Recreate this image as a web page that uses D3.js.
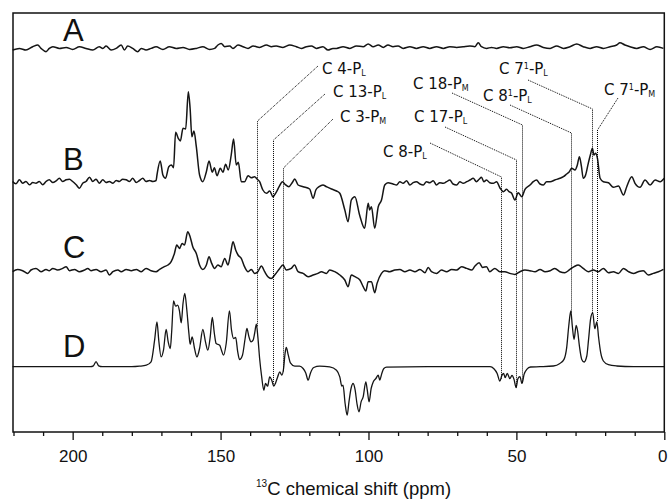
<!DOCTYPE html>
<html>
<head>
<meta charset="utf-8">
<script src="https://cdn.jsdelivr.net/npm/d3@7"></script>
<style>
body{margin:0;background:#fff;}
text{fill:#111;}
</style>
</head>
<body>
<div id="chart"></div>
<script>
// spectra as [ppm, intensity] pairs
const specA = [[220.3,-2.3],[218.0,-0.7],[215.8,-2.3],[213.5,1],[211.8,2.7],[210.7,-0.7],[209.0,-4],[207.9,-0.7],[206.7,1],[204.5,-0.7],[202.2,0.3],[200.0,-1.7],[197.7,1],[195.5,-0.7],[193.2,-2.3],[191.0,1],[189.8,-0.7],[188.7,1.7],[187.0,-2.3],[185.3,-0.7],[183.6,2.7],[182.5,-2.3],[181.4,1.7],[179.7,-0.7],[178.0,-4],[176.8,-0.7],[175.2,-2.3],[173.5,-0.7],[171.8,1],[169.5,-1.7],[167.3,1],[165.0,-0.7],[162.7,0.3],[160.5,-1.7],[158.2,-0.7],[156.0,1],[153.7,-1.7],[152.0,-0.7],[150.9,2.7],[149.8,4.3],[148.6,1],[146.9,1.7],[145.8,-0.7],[144.1,2.7],[142.4,1],[140.7,-0.7],[139.0,1.7],[136.8,0.3],[134.5,2.7],[132.8,1],[131.2,1.7],[128.9,0.3],[126.6,2.7],[124.4,1],[122.7,-0.7],[121.0,1],[119.3,1.7],[117.6,-0.7],[115.4,1],[113.7,-2.3],[112.0,-0.7],[110.8,-0.7],[108.6,1],[106.3,-0.7],[104.1,1.7],[101.8,1],[100.1,3.7],[98.4,1],[96.7,2.7],[95.0,0.3],[93.4,2.7],[91.7,1],[90.0,1.7],[88.3,-0.7],[86.0,1],[83.8,-0.7],[81.5,1],[79.3,-0.7],[77.0,1],[74.7,-0.7],[72.5,1],[70.2,0.3],[68.0,1],[65.7,1.7],[64.0,1],[62.9,5],[61.8,1],[60.1,-0.7],[58.4,0.3],[56.7,-0.7],[54.4,1],[52.2,0],[49.9,1],[47.7,-0.7],[45.4,1],[43.2,2.7],[40.9,0.3],[38.6,-0.7],[36.4,1.7],[34.1,-0.7],[31.9,1],[29.6,3.7],[27.4,1],[25.1,-0.7],[22.9,1],[20.6,-0.7],[18.3,1],[16.1,2.7],[15.0,5],[13.3,2.7],[11.6,1],[9.3,-0.7],[7.1,1],[4.8,-1.7],[2.5,1],[0.3,-0.7]];

const specB = [[220.3,1],[219.2,-1.3],[218.0,2.7],[216.9,-0.7],[215.8,1],[214.6,-2.3],[213.5,0],[212.4,-0.7],[211.3,1],[210.1,-2.3],[209.0,1],[207.9,2.7],[206.7,0],[205.6,1.7],[204.5,4.3],[203.4,1],[202.2,2.7],[201.1,3.3],[200.0,1],[198.8,-2.3],[197.7,-5.7],[196.6,-0.7],[195.5,1],[194.3,5.3],[193.2,1],[192.1,3.3],[191.0,-0.7],[189.8,2.7],[188.7,0],[187.6,1],[186.4,-0.7],[185.3,2],[184.2,1],[183.1,3.3],[181.9,2.7],[180.8,1],[179.7,4.3],[178.5,0],[177.4,2],[176.3,4.3],[175.2,1],[174.0,2],[172.9,1],[171.8,2],
[171.5,7.5],[170.4,21.5],[169.5,7.5],[168.6,4.2],[167.5,15.8],[166.6,17.5],[165.9,14.8],[165.2,50.2],[164.3,44.2],[163.6,41.5],[162.7,54.2],[161.8,53.5],[160.9,90.8],[160.3,74.2],[159.7,45.8],[159.0,51.5],[158.2,35.8],[157.1,7.5],[156.0,0.8],[154.8,10.8],[153.9,21.5],[152.8,10.2],[152.1,14.8],[151.2,6.8],[150.1,14.2],[149.2,10.2],[148.3,18.2],[147.4,12.5],[146.4,27.5],[145.6,43.5],[144.7,17.5],[144.0,20.2],[143.0,0.8],[141.9,0.8],[140.7,6.8],[139.6,4.8],[138.5,5.8],[137.7,3.5],[136.8,0.8],[135.7,-7.5],[134.5,-10.8],[133.4,-8.5],[132.3,-14.2],[131.2,-9.8],[130.2,-4.2],[129.1,0.8],[128.2,-1.8],[126.9,-4.2],[125.7,0.2],[124.9,3.5],[123.8,-2.5],[122.1,-4.2],[119.9,-6.5],[118.7,-15.8],[117.8,-7.5],[116.7,-4.2],[115.4,-2.5],[114.2,-4.2],[112.5,-6.5],[110.8,-8.5],[109.7,-10.8],
[108.0,-27.5],[106.9,-39.2],[105.8,-17.5],[104.6,-14.2],[103.0,-32.5],[101.3,-45.8],[100.1,-20.8],[99.6,-27.5],[99.0,-24.2],[97.9,-45.8],[96.7,-24.2],[95.6,-17.5],[94.5,-2.5],[93.4,-0.2],[91.7,-1.5],[90.5,-2.5],[89.4,0.8],[88.3,-0.8],[87.1,1.8],[86.0,-2.5],[84.9,-0.2],[83.8,0.8],[82.6,-1.5],[81.5,-2.5],[80.4,0.8],[79.3,-0.2],[78.1,1.8],[77.0,-2.5],[75.9,-0.2],[74.7,-0.8],[73.6,0.8],[72.5,2.5],[71.4,-1.5],[70.2,-2.5],[69.1,0.8],[68.0,-0.8],[66.8,0.8],[65.7,2.5],[64.6,4.2],[63.5,0.8],[62.6,3.2],[61.8,5.2],[61.0,0.8],[60.1,2.5],[59.0,-0.2],[57.8,-0.8],[56.7,0.8],[55.5,-5.8],[54.4,-9.2],[53.3,-6.8],[52.5,-9.2],[51.6,-10.8],[50.5,-17.5],[49.4,-10.2],[48.2,-14.2],[47.1,-6.8],[45.4,-2.5],[44.3,0.8],[43.2,2.5],[42.0,-1.5],[40.9,-2.5],[39.8,0.8],[38.6,0.8],[37.0,2.5],[35.3,4.2],[34.1,5.8],[33.0,8.5],[32.1,10.8],[31.3,14.2],[30.2,12.5],[29.4,17.5],[28.7,25.8],[28.0,15.8],[27.4,4.2],[26.6,7.5],[25.7,19.2],[25.0,27.5],[24.3,34.2],[23.8,27.5],[23.2,29.2],[22.6,24.2],[21.7,4.2],[20.6,0.8],[18.9,-0.2],[17.2,-4.8],[15.5,-3.5],[13.8,-12.5],[12.7,-4.2],[11.0,5.8],[9.9,-0.8],[8.2,-4.8],[6.5,2.5],[4.8,-2.5],[3.1,2.5],[1.4,0.8],[0.0,4.2]];

const specC = [[220.3,0],[218.6,2.3],[216.9,1],[215.2,-1.7],[214.1,1.7],[212.4,3.3],[210.7,0],[209.0,2.3],[207.9,1],[206.7,3.3],[205.1,1.7],[203.4,3.3],[202.2,5],[201.1,1],[199.4,2.3],[197.7,0],[196.0,1.7],[194.9,3.3],[193.8,1],[192.1,2.3],[190.4,0],[188.7,1.7],[187.6,-3.3],[186.4,0],[184.7,1.7],[183.6,0],[181.9,2.3],[180.2,1],[178.5,2.3],[176.8,0],[175.2,3.3],[173.5,1],[171.8,0],[170.6,2.3],[169.0,5],[167.8,6.7],[166.7,10],[165.6,18.3],[164.8,26.7],[163.9,23.3],[163.0,28.3],[162.2,26.7],[161.1,40],[160.3,35],[159.4,25],[158.2,18.3],[157.1,6.7],[156.0,2.3],[154.8,6.7],[153.9,15],[153.0,8.3],[152.0,3.3],[150.9,6.7],[149.8,5],[148.6,13.3],[147.5,6.7],[146.6,18.3],[145.8,30],[144.9,21.7],[144.1,16.7],[143.0,13.3],[141.9,5],[140.7,0],[139.6,2.3],[138.5,-1.7],[137.4,0],[136.2,5.7],[135.1,0],[134.0,-5],[132.9,-6.7],[131.7,-3.3],[130.0,3.3],[128.9,6.7],[127.8,1.7],[126.1,3.3],[125.0,6.7],[123.8,0],[122.1,-1.7],[120.4,-5],[118.7,-3.3],[117.1,-1.7],[115.9,0],[114.2,-1.7],[113.1,1.7],
[111.4,0],[109.7,-3.3],[108.0,-8.3],[106.9,-15],[105.8,-3.3],[104.6,-5],[102.9,-8.3],[101.8,-15],[100.9,-19.3],[100.1,-10],[99.0,-10],[97.9,-21],[97.1,-11.7],[95.6,-1.7],[94.5,1],[92.8,0],[91.1,1.7],[89.4,2.3],[87.7,0],[86.0,1.7],[84.3,0],[82.6,2.3],[80.9,-1],[79.8,4.3],[78.7,0],[77.0,-1.7],[75.3,1.7],[73.6,0],[71.9,2.3],[70.2,1.7],[68.5,5],[66.8,3.3],[65.1,1.7],[64.0,5.7],[62.6,9],[61.4,4.3],[60.1,5],[59.0,0],[57.3,3.3],[55.6,0],[53.9,0],[52.2,-1.7],[50.5,-2.7],[48.8,0],[47.1,1.7],[45.4,1],[43.7,0],[42.0,2.3],[40.3,0],[38.6,1],[37.0,3.3],[35.3,0],[33.6,-1],[31.9,2.3],[30.5,5],[29.1,6.7],[27.4,3.3],[25.7,0],[24.0,1.7],[22.3,0],[20.6,3.3],[18.9,-1],[17.2,0],[15.5,-1.7],[13.8,3.3],[12.1,0],[10.4,-1.7],[8.8,0],[7.1,1],[5.4,-3.3],[3.7,-1.7],[2.0,0],[0.3,2.3]];

const specD = [[220.3,0],[200.0,0],[194.0,0],[193.0,0.8],[192.1,5],[191.2,0.8],[190.0,0],[180.0,0],[177.4,0.5],[175.1,1.5],[173.5,4.8],[172.3,26.5],[171.5,44.8],[170.9,26.5],[170.1,9.8],[169.3,16.5],[168.4,37.2],[167.7,24.8],[167.0,18.2],[166.5,36.5],[165.9,65.8],[165.2,60.5],[164.5,61.5],[163.9,55.8],[163.3,43.8],[162.7,63.2],[162.1,73.2],[161.4,56.5],[160.7,33.2],[160.3,22.5],[159.6,29.8],[158.8,18.2],[158.0,9.8],[157.1,18.2],[156.0,37.2],[155.1,24.8],[154.3,16.5],[153.5,29.8],[152.8,49.2],[152.1,33.2],[151.5,23.2],[150.3,21.5],[149.7,16.5],[149.0,11.5],[148.1,23.2],[147.0,55.8],[146.3,36.5],[145.6,28.2],[144.9,29.2],[144.2,14.8],[143.6,7.2],[142.6,11.5],[141.7,28.2],[141.1,38.2],[140.4,29.8],[139.7,24.8],[139.0,26.5],[138.5,33.2],[137.9,42.5],[137.4,29.8],[136.8,8.2],[136.1,-10.2],[135.4,-23.5],[134.8,-16.8],[134.1,-19.5],[133.4,-10.2],[132.7,-13.5],[132.0,-19.5],[131.4,-16.2],[130.7,-10.2],[130.0,-5.2],[129.3,-8.5],[128.7,-1.8],[128.2,13.2],[127.8,19.2],[127.1,11.5],[126.4,3.8],[124.9,0.5],[123.3,0.5],[122.1,-1.8],[121.2,-6.2],[120.4,-13.5],[119.6,-6.2],[118.5,-0.8],[116.5,0.5],[113.1,-0.2],[110.8,-3.5],[109.7,-10.2],[109.0,-19.5],
[108.6,-18.5],[107.9,-36.8],[107.2,-48.5],[106.6,-35.2],[105.9,-21.8],[105.2,-16.8],[104.5,-23.5],[103.9,-36.8],[103.2,-45.2],[102.5,-35.2],[101.8,-30.2],[100.9,-15.2],[100.4,-23.5],[99.8,-35.2],[99.1,-21.8],[98.4,-15.2],[97.5,-11.8],[96.7,-8.5],[96.2,-13.5],[95.5,-6.8],[94.8,-1.8],[93.9,-0.5],[80.0,0],
[58.9,0],[57.6,-2],[56.5,-6.7],[55.6,-14.4],[54.9,-8.7],[54.3,-6.7],[53.8,-11],[53.1,-6.7],[52.2,-12],[51.5,-8.7],[50.8,-12.7],[50.1,-21],[49.5,-12],[48.8,-10],[48.1,-16.7],[47.4,-7.7],[46.5,-2.7],[45.2,-0.3],[42.0,0],[37.5,0.7],[35.3,3.3],[33.9,7.3],[33.0,19],[32.3,40.7],[31.6,55.7],[31.1,40.7],[30.5,27.3],[29.8,41.3],[29.3,35.7],[28.7,20.7],[27.9,7.3],[27.1,4.7],[26.2,10.7],[25.6,27.3],[24.9,48],[24.2,54],[23.5,38],[22.8,44.7],[22.2,29],[21.5,14],[20.6,5.7],[18.9,2],[16.1,0.7],[10.4,0],[0.0,0]];

const spectra = [specA, specB, specC, specD];
const traceNames = ["A", "B", "C", "D"];

// peak assignments: label parts and ppm of the marked resonance
const assignMain = ["C 4", "C 13", "C 3", "C 18", "C 17", "C 8", "C 8", "C 7", "C 7"];
const assignSup  = ["", "", "", "", "", "", "1", "1", "1"];
const assignSub  = ["L", "L", "M", "M", "L", "L", "L", "L", "M"];
const assignPpm  = [137.8, 132.3, 129.0, 48.1, 50.1, 55.3, 31.7, 24.3, 22.8];

const majorTicks = [200, 150, 100, 50, 0];
const minorTicks = [220, 210, 190, 180, 170, 160, 140, 130, 120, 110, 90, 80, 70, 60, 40, 30, 20, 10];

// layout
const w = 668, h = 499;
const xLeft = 13, yTop = 13, xRight = 664.3, yBottom = 432;
const baselines = [47.7, 182.5, 271.7, 366.7];
const nameY = [41, 170, 258, 357];
// label text anchor (x, baseline), leader start, bend height
const labelXY = [[322,74],[333,97],[340,122],[413,89],[414,122],[383,157],[483,101],[499,74],[604,95]];
const leadStart = [[318,66],[325,94],[333,119],[452,93],[445,127],[430,143],[510,105],[528,80],[618,98]];
const bendY = [121, 140, 168, 125, 160, 177, 133, 109, 130];

const svg = d3.select("#chart").append("svg")
  .attr("width", w).attr("height", h)
  .style("font-family", "'Liberation Sans', Arial, sans-serif");

const x = d3.scaleLinear().domain([220, 0]).range([13.5, xRight]);
const y = d3.scaleLinear().domain([0, 100]).range([0, -100]);

const line = d3.line()
  .x(d => x(d[0]))
  .y(d => y(d[1]))
  .curve(d3.curveMonotoneX);

//Traces
spectra.forEach((s, i) => {
  svg.append("path")
    .attr("d", line(s))
    .attr("transform", `translate(0,${baselines[i]})`)
    .attr("fill", "none")
    .attr("stroke", "#151515")
    .attr("stroke-width", i === 3 ? 1.3 : 1.5)
    .attr("stroke-linejoin", "round");
  svg.append("text")
    .attr("x", 63).attr("y", nameY[i])
    .attr("font-size", 31)
    .text(traceNames[i]);
});

//D value at a given ppm, used to end the leader lines on the trace
function dAt(p) {
  const k = specD.findIndex(d => d[0] <= p);
  const a = specD[k - 1], b = specD[k];
  const t = (a[0] - p) / (a[0] - b[0]);
  return a[1] + t * (b[1] - a[1]);
}

//Leader lines and labels
const labels = svg.append("g").attr("font-family", "'DejaVu Sans', Verdana, sans-serif");
assignPpm.forEach((p, i) => {
  const xv = Math.round(x(p)) + 0.5;
  const yEnd = baselines[3] + y(dAt(p));
  labels.append("path")
    .attr("d", `M${leadStart[i][0]},${leadStart[i][1]}L${xv},${bendY[i]}L${xv},${yEnd}`)
    .attr("fill", "none")
    .attr("stroke", "#000")
    .attr("stroke-width", 1)
    .attr("stroke-dasharray", "1,1");

  const t = labels.append("text")
    .attr("x", labelXY[i][0]).attr("y", labelXY[i][1])
    .attr("font-size", 15);
  t.append("tspan").text(assignMain[i]);
  let shift = 0;
  if (assignSup[i]) {
    t.append("tspan").attr("dy", -5).attr("font-size", 8).text(assignSup[i]);
    shift = 5;
  }
  t.append("tspan").attr("dy", shift).text("-P");
  t.append("tspan").attr("dy", 2).attr("font-size", 8).text(assignSub[i]);
});

//Axis ticks
const axisG = svg.append("g").attr("transform", `translate(0,${yBottom})`);
axisG.call(d3.axisBottom(x).tickValues(majorTicks).tickSize(8).tickPadding(10).tickFormat(d3.format("d")));
axisG.append("g").call(d3.axisBottom(x).tickValues(minorTicks).tickSize(4).tickFormat(""));
axisG.selectAll(".domain").remove();
axisG.selectAll("line").attr("stroke", "#111").attr("stroke-width", 1.3);
axisG.selectAll("text")
  .attr("font-size", 17)
  .attr("font-family", "'Liberation Sans', Arial, sans-serif")
  .attr("fill", "#111");
// the 0 label sits against the right edge
axisG.selectAll(".tick text").filter(d => d === 0)
  .attr("text-anchor", "end").attr("x", 667 - xRight);

//Frame
svg.append("rect")
  .attr("x", xLeft).attr("y", yTop)
  .attr("width", xRight - xLeft).attr("height", yBottom - yTop)
  .attr("fill", "none")
  .attr("stroke", "#111")
  .attr("stroke-width", 1.5);

//Axis title
const title = svg.append("text")
  .attr("x", 256).attr("y", 495)
  .attr("font-size", 18.5);
title.append("tspan").attr("font-size", 10).attr("dy", -8).text("13");
title.append("tspan").attr("dy", 8).text("C chemical shift (ppm)");
</script>
</body>
</html>
